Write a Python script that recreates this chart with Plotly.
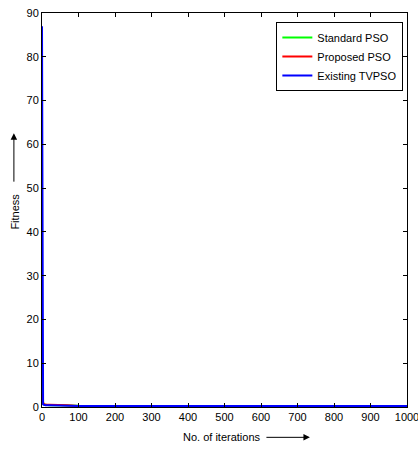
import plotly.graph_objects as go

iterations = [0, 1, 2, 3, 5, 10, 20, 50, 70, 100, 1000]
standard_pso = [12, 6, 2, 1.0, 0.6, 0.5, 0.4, 0.4, 0.35, 0.3, 0.25]
proposed_pso = [3, 2, 1.5, 1.0, 0.7, 0.5, 0.5, 0.5, 0.4, 0.2, 0.15]
existing_tvpso = [87, 4, 1.2, 0.6, 0.5, 0.4, 0.4, 0.35, 0.3, 0.25, 0.2]

FONT = "Liberation Sans Narrow, Arial Narrow, Liberation Sans, Arial"

fig = go.Figure()
fig.add_trace(go.Scatter(x=iterations, y=standard_pso, mode="lines",
                         line=dict(color="#00ff00", width=2), name="Standard PSO"))
fig.add_trace(go.Scatter(x=iterations, y=proposed_pso, mode="lines",
                         line=dict(color="#ff0000", width=2), name="Proposed PSO"))
fig.add_trace(go.Scatter(x=iterations, y=existing_tvpso, mode="lines",
                         line=dict(color="#0000ff", width=2), name="Existing TVPSO"))

axis_common = dict(showgrid=False, zeroline=False, showline=True, linecolor="black",
                   linewidth=1, mirror="ticks", ticks="inside", ticklen=4,
                   tickcolor="black", ticklabeloverflow="allow", automargin=False,
                   tickfont=dict(family=FONT, size=11, color="black"))

fig.update_layout(
    width=418, height=449,
    margin=dict(l=42, r=11, t=13, b=42),
    paper_bgcolor="white", plot_bgcolor="white",
    font=dict(family=FONT, size=11, color="black"),
    showlegend=True,
    legend=dict(x=0.99, y=0.977, xanchor="right", yanchor="top",
                bgcolor="white", bordercolor="black", borderwidth=1,
                font=dict(family=FONT, size=11, color="black"),
                itemwidth=30, tracegroupgap=0),
    xaxis=dict(range=[0, 1000], tickvals=list(range(0, 1001, 100)), **axis_common),
    yaxis=dict(range=[0, 90], tickvals=list(range(0, 91, 10)), **axis_common),
)

# Axis titles with arrows
fig.add_annotation(xref="paper", yref="paper", x=0.493, y=-0.075, text="No. of iterations",
                   showarrow=False, xanchor="center", yanchor="middle",
                   font=dict(family=FONT, size=11, color="black"))
fig.add_annotation(xref="paper", yref="paper", x=0.734, y=-0.077, ax=-45, ay=0,
                   text="", showarrow=True, arrowhead=2, arrowsize=1.3, arrowwidth=1,
                   arrowcolor="black")
fig.add_annotation(xref="paper", yref="paper", x=-0.075, y=0.495, text="Fitness",
                   showarrow=False, textangle=-90, xanchor="center", yanchor="middle",
                   font=dict(family=FONT, size=11, color="black"))
fig.add_annotation(xref="paper", yref="paper", x=-0.077, y=0.695, ax=0, ay=50,
                   text="", showarrow=True, arrowhead=2, arrowsize=1.3, arrowwidth=1,
                   arrowcolor="black")

fig.write_html("out.html")
